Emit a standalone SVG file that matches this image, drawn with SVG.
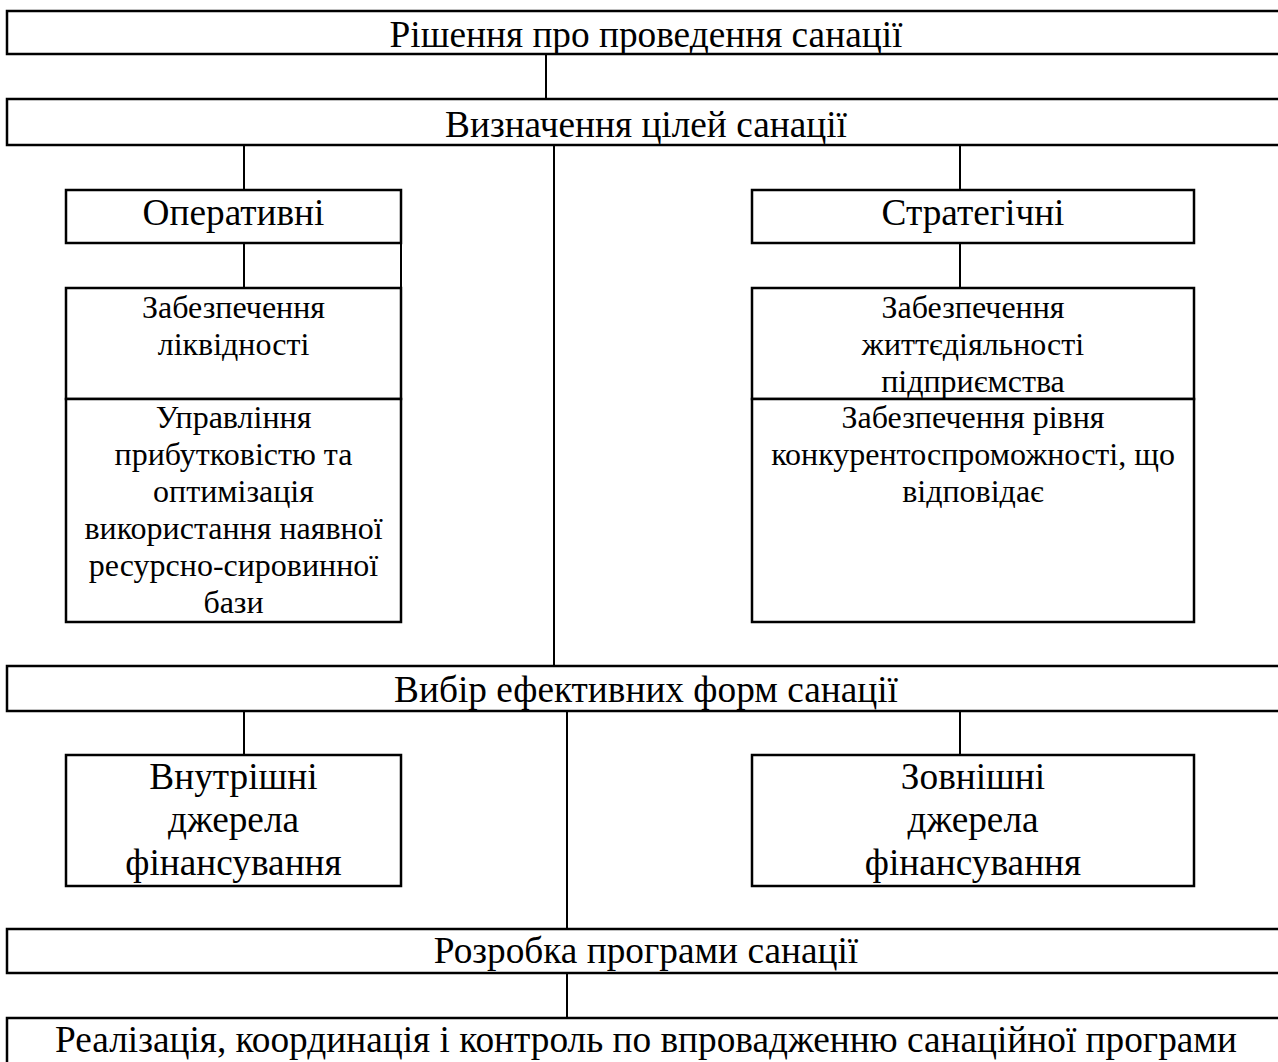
<svg xmlns="http://www.w3.org/2000/svg" width="1278" height="1062" viewBox="0 0 1278 1062">
<style>
.box{fill:#fff;stroke:#000;stroke-width:2.5}
.ln{stroke:#000;stroke-width:2;fill:none}
.t{font-family:"Liberation Serif","Times New Roman",serif;fill:#000;text-anchor:middle}
.h{font-size:37.3px}
.s{font-size:32px}
</style>
<rect width="1278" height="1062" fill="#fff"/>
<g id="connectors">
<line class="ln" x1="546" y1="54" x2="546" y2="99"/>
<line class="ln" x1="244" y1="145" x2="244" y2="190"/>
<line class="ln" x1="554" y1="145" x2="554" y2="666"/>
<line class="ln" x1="960" y1="145" x2="960" y2="190"/>
<line class="ln" x1="244" y1="243" x2="244" y2="288"/>
<line class="ln" x1="401" y1="243" x2="401" y2="288"/>
<line class="ln" x1="960" y1="243" x2="960" y2="288"/>
<line class="ln" x1="244" y1="711" x2="244" y2="755"/>
<line class="ln" x1="567" y1="711" x2="567" y2="929"/>
<line class="ln" x1="960" y1="711" x2="960" y2="755"/>
<line class="ln" x1="567" y1="973" x2="567" y2="1018"/>
</g>
<g id="n1"><rect class="box" x="7" y="11" width="1290" height="43"/><text class="t h" x="646" y="47">Рішення про проведення санації</text></g>
<g id="n2"><rect class="box" x="7" y="99" width="1290" height="46"/><text class="t h" x="646" y="137">Визначення цілей санації</text></g>
<g id="n3"><rect class="box" x="66" y="190" width="335" height="53"/><text class="t h" x="233.5" y="225">Оперативні</text></g>
<g id="n4"><rect class="box" x="752" y="190" width="442" height="53"/><text class="t h" x="973" y="225">Стратегічні</text></g>
<g id="n5"><rect class="box" x="66" y="288" width="335" height="111"/><text class="t s" x="233.5" y="318">Забезпечення</text><text class="t s" x="233.5" y="355">ліквідності</text></g>
<g id="n6"><rect class="box" x="66" y="399" width="335" height="223"/><text class="t s" x="233.5" y="428">Управління</text><text class="t s" x="233.5" y="465">прибутковістю та</text><text class="t s" x="233.5" y="502">оптимізація</text><text class="t s" x="233.5" y="539">використання наявної</text><text class="t s" x="233.5" y="576">ресурсно-сировинної</text><text class="t s" x="233.5" y="613">бази</text></g>
<g id="n7"><rect class="box" x="752" y="288" width="442" height="111"/><text class="t s" x="973" y="318">Забезпечення</text><text class="t s" x="973" y="355">життєдіяльності</text><text class="t s" x="973" y="392">підприємства</text></g>
<g id="n8"><rect class="box" x="752" y="399" width="442" height="223"/><text class="t s" x="973" y="428">Забезпечення рівня</text><text class="t s" x="973" y="465">конкурентоспроможності, що</text><text class="t s" x="973" y="502">відповідає</text></g>
<g id="n9"><rect class="box" x="7" y="666" width="1290" height="45"/><text class="t h" x="646" y="702">Вибір ефективних форм санації</text></g>
<g id="n10"><rect class="box" x="66" y="755" width="335" height="131"/><text class="t h" x="233.5" y="789">Внутрішні</text><text class="t h" x="233.5" y="832">джерела</text><text class="t h" x="233.5" y="875">фінансування</text></g>
<g id="n11"><rect class="box" x="752" y="755" width="442" height="131"/><text class="t h" x="973" y="789">Зовнішні</text><text class="t h" x="973" y="832">джерела</text><text class="t h" x="973" y="875">фінансування</text></g>
<g id="n12"><rect class="box" x="7" y="929" width="1290" height="44"/><text class="t h" x="646" y="963">Розробка програми санації</text></g>
<g id="n13"><rect class="box" x="7" y="1018" width="1290" height="60"/><text class="t h" x="646" y="1052">Реалізація, координація і контроль по впровадженню санаційної програми</text></g>
</svg>
